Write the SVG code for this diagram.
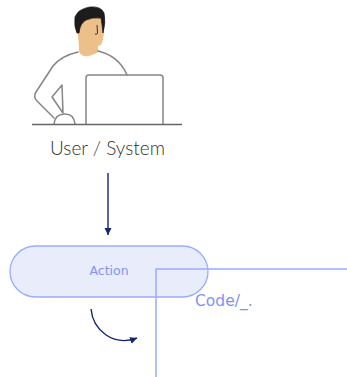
<svg xmlns="http://www.w3.org/2000/svg" width="347" height="377" viewBox="0 0 347 377">
<style>
.o{fill:none;stroke:#858585;stroke-width:1.5;stroke-linejoin:round;stroke-linecap:round}
.b{fill:none;stroke:#9aacff;stroke-width:1.5}
.n{fill:none;stroke:#14246e;stroke-width:1.4}
.d{font-family:"DejaVu Sans","Liberation Sans",sans-serif;fill:#7f93f8}
</style>
<defs>
<marker id="a" markerUnits="userSpaceOnUse" markerWidth="8" markerHeight="8" refX="7" refY="3.500" orient="auto"><path d="M0 0L7 3.500L0 7z" fill="#14246e"/></marker>
</defs>
<g id="user">
<path d="M79 51Q79 44 78 36L77 24L84 14L100 14L104 32Q103 42 101 45L98 46L98 51L98.500 52Q90 57 84 56Q80 55 79 51Z" fill="#edc08a"/>
<path d="M77 33Q74 27 75 17Q78 9 90 7Q101 6 104 13Q106 22 103 33Q102 24 101 18Q92 17 86 20Q80 23 79 33Z" fill="#1c1c1c" stroke="#1c1c1c" stroke-width=".8"/>
<path d="M97 25L97.500 33Q97 35 95 34" fill="none" stroke="#333" stroke-width="1"/>
<path class="o" d="M78 52Q61 56 53 66L36 92Q33 97 37 101L54 118"/>
<path class="o" d="M98 51Q119 56 127 75"/>
<path class="o" d="M62 85L52 97L63 113Z"/>
<path class="o" d="M54 124Q55 114 65 114Q74 114 75 124"/>
<path class="o" d="M86 124V78Q86 75 89 75H160Q163 75 163 78V124"/>
<path d="M32 124.500H182" fill="none" stroke="#666" stroke-width="1.300"/>
<text x="107.500" y="155" font-size="19" font-weight="300" fill="#333" text-anchor="middle" font-family="Lato,'Open Sans',sans-serif">User / System</text>
</g>
<g id="action">
<rect x="10" y="246" width="198" height="51" rx="25.500" fill="#e8ecfb" stroke="#9aacff" stroke-width="1.300"/>
<text class="d" x="109" y="275" font-size="12.500" text-anchor="middle">Action</text>
</g>
<g id="connectors">
<path class="n" d="M108 173V235" marker-end="url(#a)"/>
<path class="n" d="M91 309C93 330 113 347 137 338" marker-end="url(#a)"/>
<path class="b" d="M156 377V269H347"/>
</g>
<text class="d" x="195" y="306" font-size="15.500">Code/_.</text>
</svg>
